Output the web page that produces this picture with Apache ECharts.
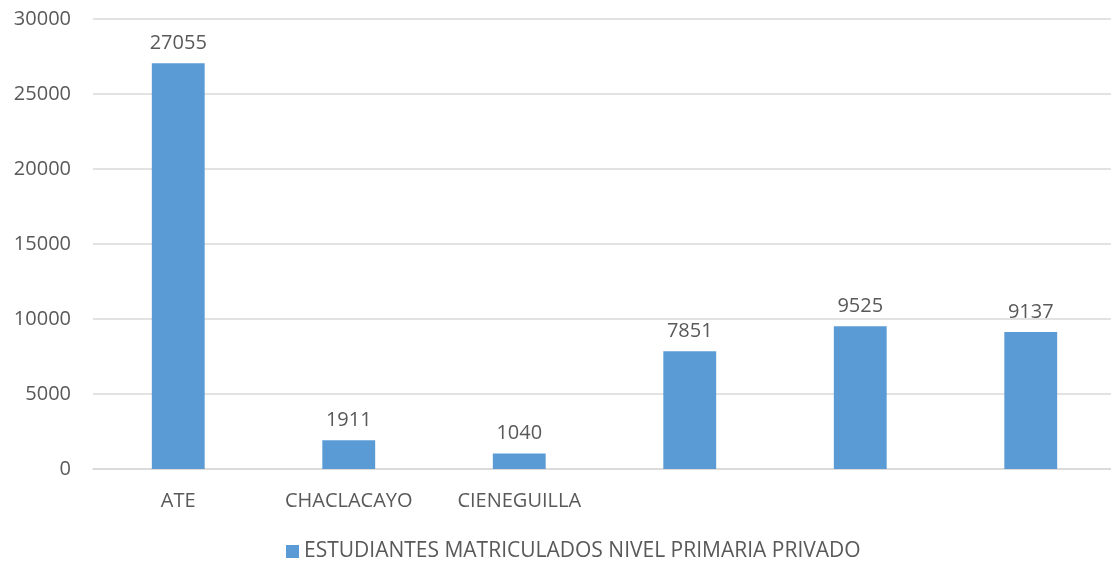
<!DOCTYPE html>
<html>
<head>
<meta charset="utf-8">
<script src="https://cdn.jsdelivr.net/npm/echarts@6/dist/echarts.min.js"></script>
<style>
  html, body { margin: 0; padding: 0; background: #fff; overflow: hidden; }
  /* el area de trazado del original sobrepasa el borde derecho */
  #chart { width: 1116px; height: 566px; }
</style>
</head>
<body>
<div id="chart"></div>
<script>
// categorias (las tres ultimas sin etiqueta en el original)
const categories = ['ATE', 'CHACLACAYO', 'CIENEGUILLA', '', '', '']
const values = [27055, 1911, 1040, 7851, 9525, 9137]
const seriesName = 'ESTUDIANTES MATRICULADOS NIVEL PRIMARIA PRIVADO'

const chart = echarts.init(document.getElementById('chart'))
const textColor = '#595959'
const font = '"Open Sans", "Liberation Sans", sans-serif'

chart.setOption({
  animation: false,
  textStyle: { fontFamily: font },
  grid: { left: 93, right: 0, top: 19, bottom: 97 },
  legend: {
    data: [seriesName],
    bottom: -1,
    left: 281,
    itemWidth: 13,
    itemHeight: 13,
    icon: 'rect',
    itemGap: 6,
    textStyle: { color: textColor, fontSize: 21, fontFamily: font }
  },
  xAxis: {
    type: 'category',
    data: categories,
    axisLine: { lineStyle: { color: '#d9d9d9', width: 1.5 } },
    axisTick: { show: false },
    axisLabel: { color: textColor, fontSize: 20, margin: 22, fontFamily: font }
  },
  yAxis: {
    type: 'value',
    min: 0,
    max: 30000,
    interval: 5000,
    axisLine: { show: false },
    axisTick: { show: false },
    splitLine: { lineStyle: { color: '#d9d9d9', width: 1.5 } },
    axisLabel: {
      color: textColor,
      fontSize: 20,
      margin: 22,
      fontFamily: font,
      formatter: v => String(v)
    }
  },
  series: [{
    name: seriesName,
    type: 'bar',
    data: values,
    barWidth: '31%',
    itemStyle: { color: '#5b9bd5' },
    label: {
      show: true,
      position: 'top',
      distance: 10,
      color: textColor,
      fontSize: 20,
      fontFamily: font
    }
  }]
})
</script>
</body>
</html>
